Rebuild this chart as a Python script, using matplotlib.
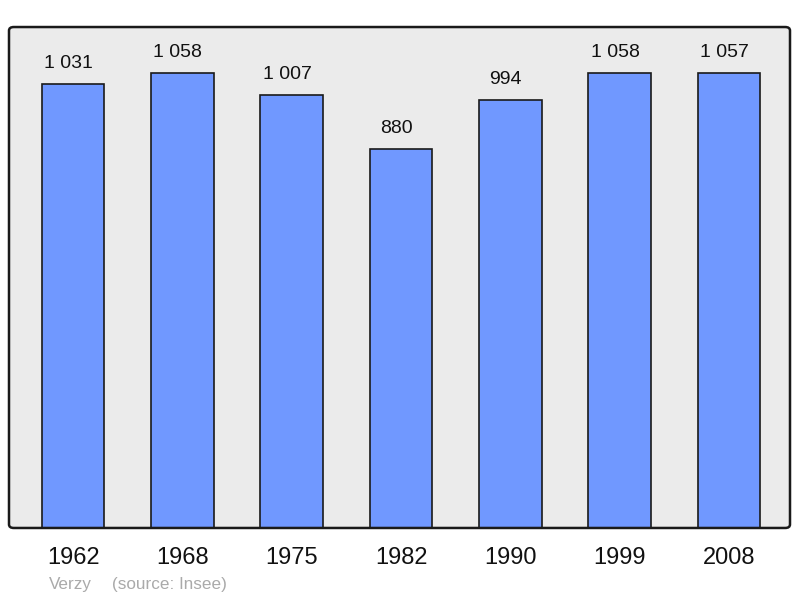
import matplotlib
matplotlib.use("Agg")
import matplotlib.pyplot as plt
from matplotlib.patches import FancyBboxPatch

years = ["1962", "1968", "1975", "1982", "1990", "1999", "2008"]
population = [1031, 1058, 1007, 880, 994, 1058, 1057]
value_labels = ["1 031", "1 058", "1 007", "880", "994", "1 058", "1 057"]

plt.rcParams['font.family'] = ['Liberation Sans', 'DejaVu Sans']

fig = plt.figure(figsize=(8.0, 5.98), dpi=100)
rect = [0.01125, 0.1171, 0.97625, 0.8377]

bg = FancyBboxPatch((rect[0], rect[1]), rect[2], rect[3],
                    boxstyle="round,pad=0,rounding_size=0.006",
                    transform=fig.transFigure, facecolor='#ebebeb',
                    edgecolor='none', zorder=-10)
fig.patches.append(bg)

ax = fig.add_axes(rect)
ax.set_zorder(1)
ax.set_facecolor('none')

x = list(range(len(years)))
ax.bar(x, population, width=0.575, color='#7098ff', edgecolor='#1a1a1a',
       linewidth=1.2, zorder=2)

for xi, v, lab in zip(x, population, value_labels):
    ax.annotate(lab, (xi, v), xytext=(-3.3, 8.5), textcoords='offset points',
                ha='center', va='bottom', fontsize=14, color='#111111')

ax.set_xlim(-0.586, 6.558)
ax.set_ylim(0, max(population) * 1.1)
ax.set_xticks(x)
ax.set_xticklabels(years, fontsize=17, color='#111111')
ax.tick_params(axis='x', length=0, pad=13.5)
ax.set_yticks([])
for s in ax.spines.values():
    s.set_visible(False)

edge = FancyBboxPatch((rect[0], rect[1]), rect[2], rect[3],
                      boxstyle="round,pad=0,rounding_size=0.006",
                      transform=fig.transFigure, facecolor='none',
                      edgecolor='#1a1a1a', linewidth=1.8, zorder=5)
ax.add_artist(edge)
edge.set_clip_on(False)

fig.text(49 / 800, 1 - 584 / 598, "Verzy", fontsize=12.3, color='#aaaaaa',
         ha='left', va='center')
fig.text(112 / 800, 1 - 584 / 598, "(source: Insee)", fontsize=12.3,
         color='#aaaaaa', ha='left', va='center')

fig.savefig("out.png", dpi=100)
